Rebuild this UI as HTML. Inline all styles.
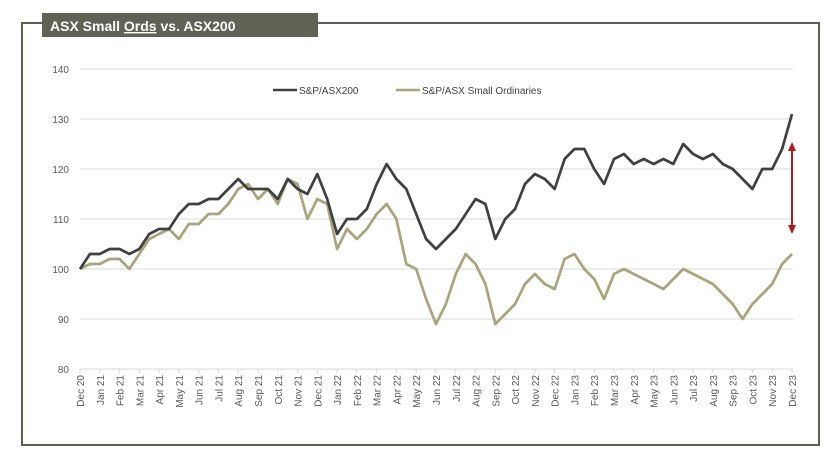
<!DOCTYPE html>
<html><head><meta charset="utf-8"><style>
html,body{margin:0;padding:0;background:#fff;}
svg{display:block;font-family:"Liberation Sans",sans-serif;}
</style></head><body>
<svg id="chart" width="840" height="470" viewBox="0 0 840 470">
<rect x="22" y="23" width="797" height="422" fill="none" stroke="#5a6150" stroke-width="2"/>
<rect x="42" y="13" width="276" height="24" fill="#5f6355"/>
<text x="50" y="31" fill="#fff" font-size="14" font-weight="bold">ASX Small <tspan text-decoration="underline" style="text-decoration-style:wavy;text-decoration-color:#c00">Ords</tspan> vs. ASX200</text>
<g id="grid"></g><g id="xaxis"></g><g id="series"></g>
<g>
<line x1="273" y1="90" x2="297" y2="90" stroke="#404040" stroke-width="2.5"/>
<text x="299" y="94" font-size="10" fill="#404040">S&amp;P/ASX200</text>
<line x1="396" y1="90" x2="420" y2="90" stroke="#a8a47c" stroke-width="2.5"/>
<text x="422" y="94" font-size="10" fill="#404040">S&amp;P/ASX Small Ordinaries</text>
</g>
<g>
<line x1="792" y1="150" x2="792" y2="226" stroke="#b01c1c" stroke-width="2"/>
<polygon points="792,142 788,151 796,151" fill="#b01c1c"/>
<polygon points="792,234 788,225 796,225" fill="#b01c1c"/>
</g>
</svg>
<script>
const yTicks=[80,90,100,110,120,130,140];
const months=["Dec 20","Jan 21","Feb 21","Mar 21","Apr 21","May 21","Jun 21","Jul 21","Aug 21","Sep 21","Oct 21","Nov 21","Dec 21","Jan 22","Feb 22","Mar 22","Apr 22","May 22","Jun 22","Jul 22","Aug 22","Sep 22","Oct 22","Nov 22","Dec 22","Jan 23","Feb 23","Mar 23","Apr 23","May 23","Jun 23","Jul 23","Aug 23","Sep 23","Oct 23","Nov 23","Dec 23"];
const asx200=[100,103,103,104,104,103,104,107,108,108,111,113,113,114,114,116,118,116,116,116,114,118,116,115,119,114,107,110,110,112,117,121,118,116,111,106,104,106,108,111,114,113,106,110,112,117,119,118,116,122,124,124,120,117,122,123,121,122,121,122,121,125,123,122,123,121,120,118,116,120,120,124,131];
const smallOrds=[100,101,101,102,102,100,103,106,107,108,106,109,109,111,111,113,116,117,114,116,113,118,117,110,114,113,104,108,106,108,111,113,110,101,100,94,89,93,99,103,101,97,89,91,93,97,99,97,96,102,103,100,98,94,99,100,99,98,97,96,98,100,99,98,97,95,93,90,93,95,97,101,103];
const NS="http://www.w3.org/2000/svg";
const x0=80,x1=792,yTop=69,yBot=369;
const ys=v=>yBot-(v-80)/(140-80)*(yBot-yTop);
const xm=i=>x0+i*(x1-x0)/(months.length-1);
const xs=(i,n)=>x0+i*(x1-x0)/(n-1);
const grid=document.getElementById('grid');
yTicks.forEach(t=>{
 const l=document.createElementNS(NS,'line');
 l.setAttribute('x1',x0);l.setAttribute('x2',x1+1);l.setAttribute('y1',ys(t));l.setAttribute('y2',ys(t));
 l.setAttribute('stroke','#d9d9d9');l.setAttribute('stroke-width','1');
 
 
 grid.appendChild(l);
 const tx=document.createElementNS(NS,'text');
 tx.setAttribute('x',69);tx.setAttribute('y',ys(t)+4);tx.setAttribute('text-anchor','end');
 tx.setAttribute('font-size','10');tx.setAttribute('fill','#595959');tx.textContent=t;
 
 
 grid.appendChild(tx);
});
const xa=document.getElementById('xaxis');
months.forEach((m,i)=>{
 const x=xm(i);
 const tk=document.createElementNS(NS,'line');
 tk.setAttribute('x1',x);tk.setAttribute('x2',x);tk.setAttribute('y1',yBot);tk.setAttribute('y2',yBot+4);
 tk.setAttribute('stroke','#d9d9d9');
 
 
 xa.appendChild(tk);
 const tx=document.createElementNS(NS,'text');
 tx.setAttribute('transform','translate('+(x+4)+','+(yBot+6)+') rotate(-90)');
 tx.setAttribute('text-anchor','end');tx.setAttribute('font-size','10');tx.setAttribute('fill','#595959');
 tx.textContent=m;
 
 
 xa.appendChild(tx);
});
const sg=document.getElementById('series');
function draw(arr,color,name){
 const p=document.createElementNS(NS,'polyline');
 p.setAttribute('points',arr.map((v,i)=>xs(i,arr.length).toFixed(1)+','+ys(v).toFixed(1)).join(' '));
 p.setAttribute('fill','none');p.setAttribute('stroke',color);p.setAttribute('stroke-width','2.7');p.setAttribute('stroke-linejoin','round');
 
 
 sg.appendChild(p);
}
draw(smallOrds,'#a8a47c','small-ords-line');
draw(asx200,'#404040','asx200-line');
</script>
</body></html>
